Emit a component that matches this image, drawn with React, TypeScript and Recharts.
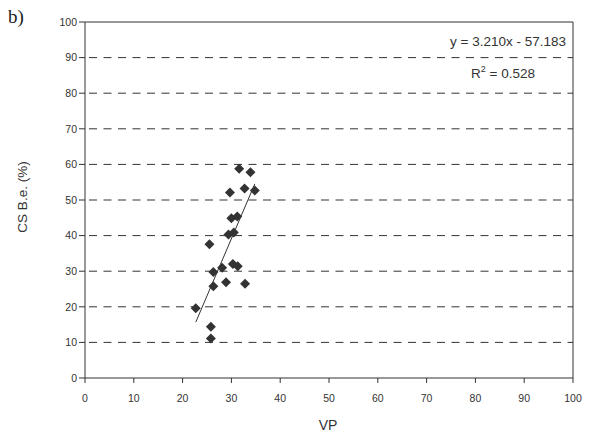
import { CartesianGrid, ReferenceLine, Scatter, ScatterChart, XAxis, YAxis } from "recharts";

// VP vs CS B.e. (%) samples
const vp = [31.6, 33.9, 29.7, 32.7, 34.8, 30.0, 31.2, 29.4, 30.5, 25.5, 26.3, 28.1, 30.3, 31.3, 26.3, 28.9, 32.8, 22.7, 25.8, 25.8];
const csBe = [58.8, 57.8, 52.1, 53.2, 52.7, 44.9, 45.4, 40.3, 40.9, 37.6, 29.8, 31.0, 32.0, 31.4, 25.8, 26.9, 26.5, 19.6, 14.4, 11.1];
const ticks = [0, 10, 20, 30, 40, 50, 60, 70, 80, 90, 100];
const gridLines = [10, 20, 30, 40, 50, 60, 70, 80, 90];

// linear fit reported on the chart
const slope = 3.21;
const intercept = -57.183;
const rSquared = 0.528;

const points = vp.map((x, i) => ({ x, y: csBe[i] }));
const xMin = Math.min(...vp);
const xMax = Math.max(...vp);
const trend = [xMin, xMax].map((x) => ({ x, y: slope * x + intercept }));

const ink = "#333";
const sans = "'Liberation Sans', Arial, sans-serif";
const tick = { fill: ink, fontSize: 10.5, fontFamily: sans };

const Diamond = ({ cx, cy }: { cx?: number; cy?: number }) =>
  cx == null || cy == null ? null : (
    <polygon points={`${cx},${cy - 5} ${cx + 5},${cy} ${cx},${cy + 5} ${cx - 5},${cy}`} fill={ink} />
  );

export default function App() {
  return (
    <div style={{ position: "absolute", left: 0, top: 0, width: 611, height: 435, background: "#fff", fontFamily: sans, color: ink }}>
      <ScatterChart width={611} height={435} margin={{ top: 22, right: 38, bottom: 0, left: 0 }}>
        <CartesianGrid vertical={false} horizontalValues={gridLines} stroke={ink} strokeDasharray="8 6.5" strokeDashoffset={-4} />
        <XAxis type="number" dataKey="x" domain={[0, 100]} ticks={ticks} height={57} tick={tick} tickSize={5} tickMargin={12} stroke={ink} />
        <YAxis type="number" dataKey="y" domain={[0, 100]} ticks={ticks} width={85} tick={tick} tickSize={6} tickMargin={2} stroke={ink} />
        <ReferenceLine y={100} stroke={ink} />
        <ReferenceLine x={100} stroke={ink} />
        <Scatter data={trend} line={{ stroke: ink, strokeWidth: 1 }} shape={() => null} isAnimationActive={false} />
        <Scatter data={points} shape={<Diamond />} isAnimationActive={false} />
      </ScatterChart>
      <div style={{ position: "absolute", left: 8, top: 6, fontFamily: "'Liberation Serif', serif", fontSize: 19, color: "#222" }}>b)</div>
      <div style={{ position: "absolute", left: 22, top: 197, fontSize: 13.5, whiteSpace: "nowrap", transform: "translate(-50%, -50%) rotate(-90deg)" }}>CS B.e. (%)</div>
      <div style={{ position: "absolute", left: 328, top: 425, fontSize: 14, transform: "translate(-50%, -50%)" }}>VP</div>
      <div style={{ position: "absolute", right: 611 - 566, top: 34, fontSize: 13.5, whiteSpace: "nowrap" }}>
        y = {slope.toFixed(3)}x - {Math.abs(intercept).toFixed(3)}
      </div>
      <div style={{ position: "absolute", left: 503, top: 64, fontSize: 13.5, whiteSpace: "nowrap", transform: "translateX(-50%)" }}>
        R<sup style={{ fontSize: 9 }}>2</sup> = {rSquared.toFixed(3)}
      </div>
    </div>
  );
}
